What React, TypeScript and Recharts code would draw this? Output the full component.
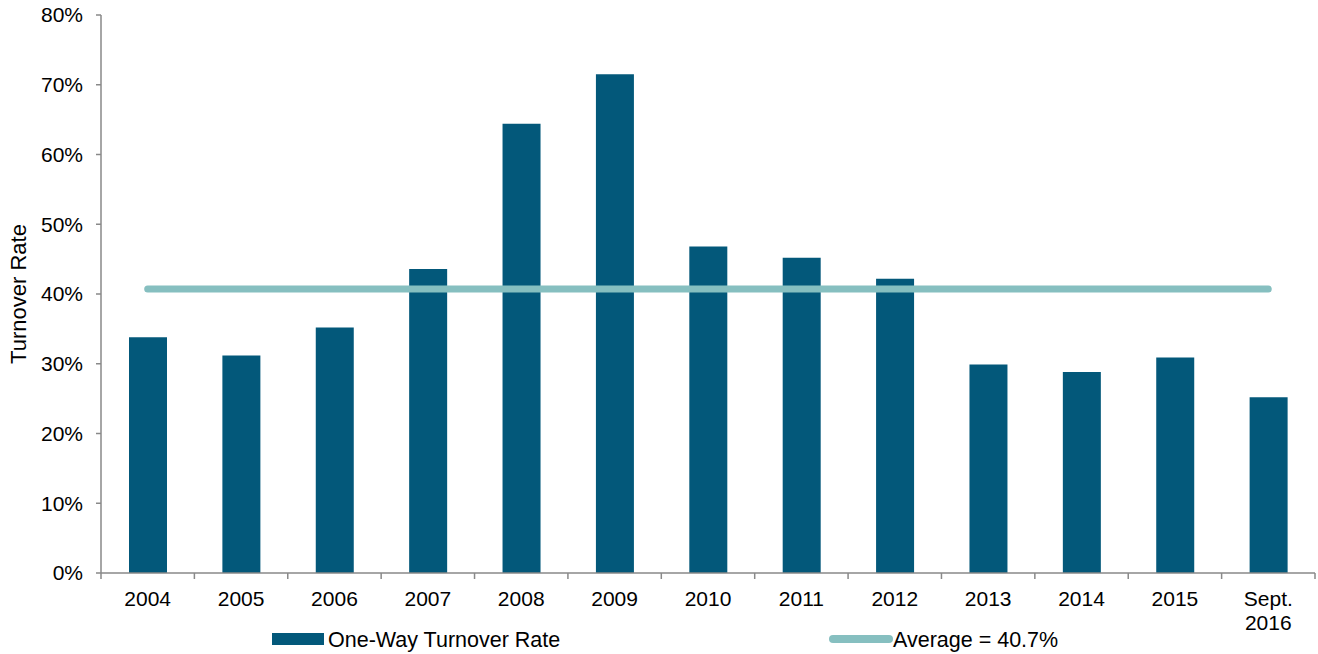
import { ComposedChart, Bar, Line, XAxis, YAxis, Legend } from 'recharts';

const years = ['2004', '2005', '2006', '2007', '2008', '2009', '2010', '2011', '2012', '2013', '2014', '2015', 'Sept.\n2016'];
const turnover = [33.8, 31.2, 35.2, 43.6, 64.4, 71.5, 46.8, 45.2, 42.2, 29.9, 28.8, 30.9, 25.2];
const average = 40.7;
const yTicks = [0, 10, 20, 30, 40, 50, 60, 70, 80];

const chartData = years.map((year, i) => ({
  year,
  turnover: turnover[i],
  avg: average,
}));

const FONT = '"Liberation Sans", Arial, sans-serif';
const BAR_COLOR = '#03587A';
const LINE_COLOR = '#86BFC0';
const AXIS_COLOR = '#898989';

const WIDTH = 1318;
const HEIGHT = 654;
const MARGIN = { top: 15, right: 3, left: 0, bottom: 0 };
const Y_AXIS_WIDTH = 101;
// width of one category band, used to put x ticks between the bars
const BAND = (WIDTH - MARGIN.left - MARGIN.right - Y_AXIS_WIDTH) / years.length;

function YearTick({ x, y, payload, index }: any) {
  const lines = String(payload.value).split('\n');
  const top = y - 8;
  const isLast = index === years.length - 1;
  return (
    <g>
      <line x1={x - BAND / 2} x2={x - BAND / 2} y1={top} y2={top + 6} stroke={AXIS_COLOR} strokeWidth={1.5} />
      {isLast && (
        <line x1={x + BAND / 2} x2={x + BAND / 2} y1={top} y2={top + 6} stroke={AXIS_COLOR} strokeWidth={1.5} />
      )}
      <text x={x} y={y} textAnchor="middle" fontFamily={FONT} fontSize={21} fill="#000">
        {lines.map((line, i) => (
          <tspan key={i} x={x} y={top + 33 + i * 24}>
            {line}
          </tspan>
        ))}
      </text>
    </g>
  );
}

function ChartLegend() {
  return (
    <div style={{ position: 'relative', width: WIDTH, height: 26, fontFamily: FONT, fontSize: 21.5, color: '#000' }}>
      <div style={{ position: 'absolute', left: 272, top: 0, display: 'flex', alignItems: 'center' }}>
        <svg width={52} height={26}>
          <rect x={0} y={6} width={52} height={12} fill={BAR_COLOR} />
        </svg>
        <span style={{ marginLeft: 4 }}>One-Way Turnover Rate</span>
      </div>
      <div style={{ position: 'absolute', left: 829, top: 0, display: 'flex', alignItems: 'center' }}>
        <svg width={64} height={26}>
          <line x1={4} y1={12} x2={60} y2={12} stroke={LINE_COLOR} strokeWidth={8} strokeLinecap="round" />
        </svg>
        <span>Average = 40.7%</span>
      </div>
    </div>
  );
}

export default function App() {
  return (
    <div style={{ position: 'absolute', left: 0, top: 0, background: '#fff' }}>
      <ComposedChart width={WIDTH} height={HEIGHT} data={chartData} margin={MARGIN}>
        <XAxis
          dataKey="year"
          height={81}
          interval={0}
          tick={<YearTick />}
          tickLine={false}
          stroke={AXIS_COLOR}
          strokeWidth={1.5}
        />
        <YAxis
          width={Y_AXIS_WIDTH}
          domain={[0, 80]}
          ticks={yTicks}
          tickFormatter={(v) => `${v}%`}
          tickSize={5}
          tickMargin={13}
          stroke={AXIS_COLOR}
          strokeWidth={1.5}
          tick={{ fill: '#000', fontFamily: FONT, fontSize: 21 }}
          label={{
            value: 'Turnover Rate',
            angle: -90,
            position: 'insideLeft',
            offset: 18,
            style: { fill: '#000', fontFamily: FONT, fontSize: 22, textAnchor: 'middle' },
          }}
        />
        <Legend
          layout="horizontal"
          verticalAlign="middle"
          align="center"
          wrapperStyle={{ top: 627, left: 0, width: WIDTH }}
          content={<ChartLegend />}
        />
        <Bar dataKey="turnover" name="One-Way Turnover Rate" fill={BAR_COLOR} barSize={38} isAnimationActive={false} />
        <Line
          dataKey="avg"
          name="Average = 40.7%"
          stroke={LINE_COLOR}
          strokeWidth={7}
          strokeLinecap="round"
          dot={false}
          activeDot={false}
          isAnimationActive={false}
        />
      </ComposedChart>
    </div>
  );
}
